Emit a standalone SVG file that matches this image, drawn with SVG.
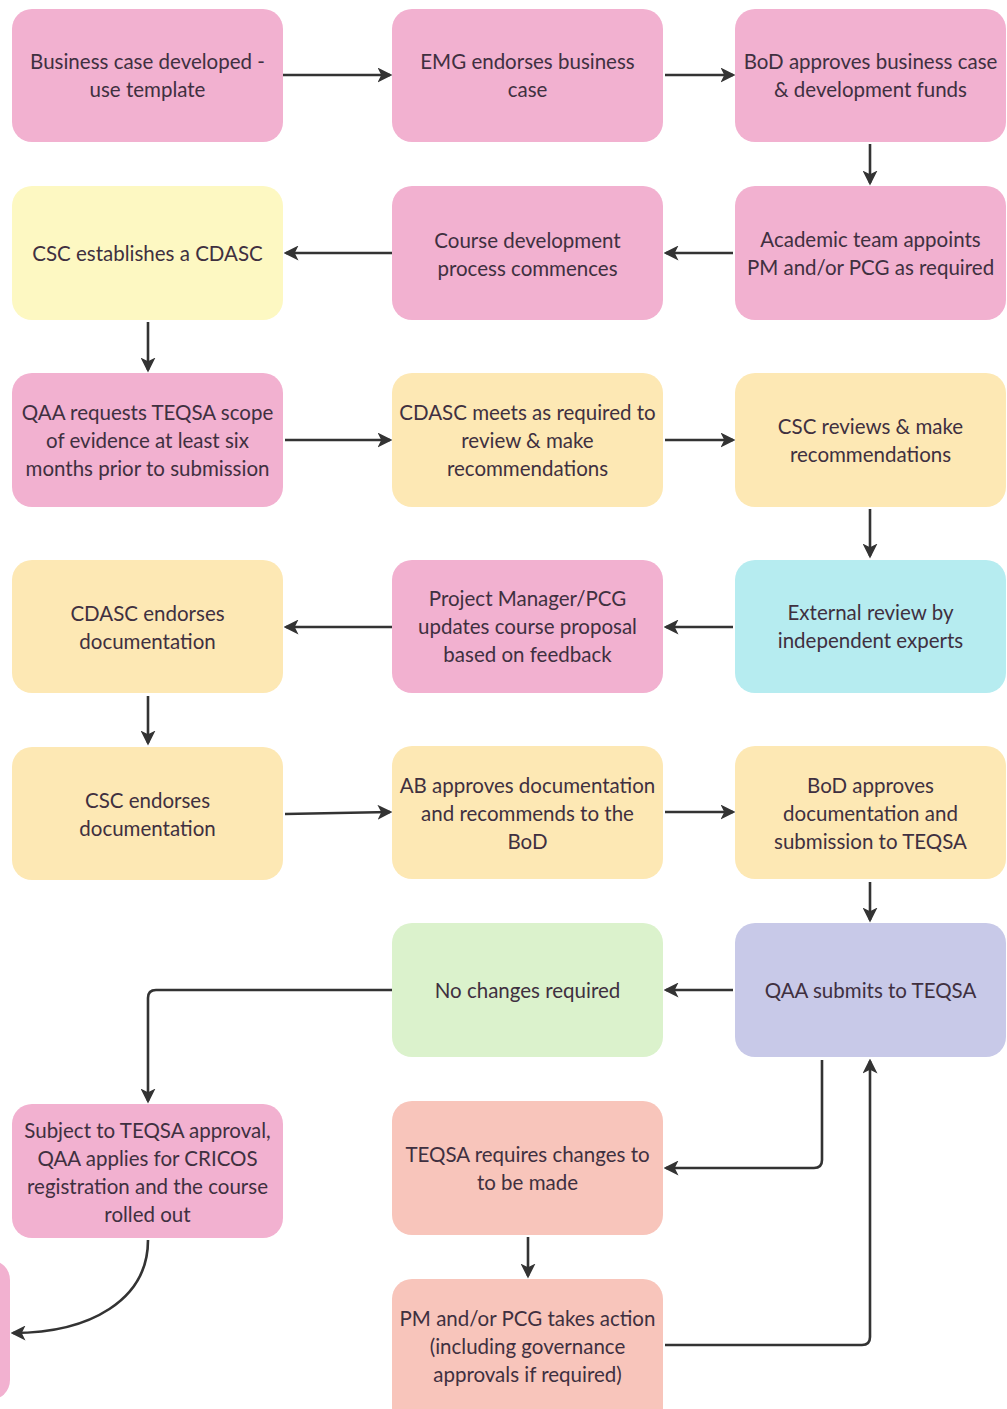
<svg xmlns="http://www.w3.org/2000/svg" width="1007" height="1409" viewBox="0 0 1007 1409">
<style>
.n rect{rx:20;ry:20}
.pink{fill:#f2b1d0}
.ylw{fill:#fdf8c2}
.pch{fill:#fde8b4}
.cyan{fill:#b6ecf0}
.grn{fill:#dbf2cc}
.lav{fill:#c8c9e8}
.sal{fill:#f8c5bb}
text{font-family:"Lato","Liberation Sans",sans-serif;font-size:20.5px;fill:#3f3040;text-anchor:middle;dominant-baseline:central}
.c path{fill:none;stroke:#333;stroke-width:2.6;marker-end:url(#ah)}
</style>
<defs>
<marker id="ah" viewBox="0 0 12 12" refX="10" refY="6" markerWidth="15" markerHeight="15" markerUnits="userSpaceOnUse" orient="auto">
<path d="M0,0 L12,6 L0,12 L3,6 Z" fill="#333"/>
</marker>
</defs>
<rect width="1007" height="1409" fill="#fff"/>
<g class="c">
<path d="M283,75 H390"/>
<path d="M665,75 H733"/>
<path d="M870,144 V183"/>
<path d="M733,253 H666"/>
<path d="M392,253 H286"/>
<path d="M148,322 V370"/>
<path d="M285,440 H390"/>
<path d="M665,440 H733"/>
<path d="M870,509 V556"/>
<path d="M733,627 H666"/>
<path d="M392,627 H286"/>
<path d="M148,696 V743"/>
<path d="M285,814 L390,812"/>
<path d="M665,812 H733"/>
<path d="M870,882 V920"/>
<path d="M733,990 H666"/>
<path d="M392,990 H156 Q148,990 148,998 V1101"/>
<path d="M822,1060 V1160 Q822,1168 814,1168 H666"/>
<path d="M665,1345 H862 Q870,1345 870,1337 V1061"/>
<path d="M528,1237 V1276"/>
<path d="M148,1240 C148,1300 90,1333 13,1333"/>
</g>
<g class="n" id="n1"><rect class="pink" x="12" y="9" width="271" height="133"/><text x="147.5" y="61">Business case developed -</text><text x="147.5" y="89">use template</text></g>
<g class="n" id="n2"><rect class="pink" x="392" y="9" width="271" height="133"/><text x="527.5" y="61">EMG endorses business</text><text x="527.5" y="89">case</text></g>
<g class="n" id="n3"><rect class="pink" x="735" y="9" width="271" height="133"/><text x="870.5" y="61">BoD approves business case</text><text x="870.5" y="89">&amp; development funds</text></g>
<g class="n" id="n4"><rect class="pink" x="735" y="186" width="271" height="134"/><text x="870.5" y="239">Academic team appoints</text><text x="870.5" y="267">PM and/or PCG as required</text></g>
<g class="n" id="n5"><rect class="pink" x="392" y="186" width="271" height="134"/><text x="527.5" y="240">Course development</text><text x="527.5" y="268">process commences</text></g>
<g class="n" id="n6"><rect class="ylw" x="12" y="186" width="271" height="134"/><text x="147.5" y="253">CSC establishes a CDASC</text></g>
<g class="n" id="n7"><rect class="pink" x="12" y="373" width="271" height="134"/><text x="147.5" y="412">QAA requests TEQSA scope</text><text x="147.5" y="440">of evidence at least six</text><text x="147.5" y="468">months prior to submission</text></g>
<g class="n" id="n8"><rect class="pch" x="392" y="373" width="271" height="134"/><text x="527.5" y="412">CDASC meets as required to</text><text x="527.5" y="440">review &amp; make</text><text x="527.5" y="468">recommendations</text></g>
<g class="n" id="n9"><rect class="pch" x="735" y="373" width="271" height="134"/><text x="870.5" y="426">CSC reviews &amp; make</text><text x="870.5" y="454">recommendations</text></g>
<g class="n" id="n10"><rect class="cyan" x="735" y="560" width="271" height="133"/><text x="870.5" y="612">External review by</text><text x="870.5" y="640">independent experts</text></g>
<g class="n" id="n11"><rect class="pink" x="392" y="560" width="271" height="133"/><text x="527.5" y="598">Project Manager/PCG</text><text x="527.5" y="626">updates course proposal</text><text x="527.5" y="654">based on feedback</text></g>
<g class="n" id="n12"><rect class="pch" x="12" y="560" width="271" height="133"/><text x="147.5" y="613">CDASC endorses</text><text x="147.5" y="641">documentation</text></g>
<g class="n" id="n13"><rect class="pch" x="12" y="747" width="271" height="133"/><text x="147.5" y="800">CSC endorses</text><text x="147.5" y="828">documentation</text></g>
<g class="n" id="n14"><rect class="pch" x="392" y="746" width="271" height="133"/><text x="527.5" y="785">AB approves documentation</text><text x="527.5" y="813">and recommends to the</text><text x="527.5" y="841">BoD</text></g>
<g class="n" id="n15"><rect class="pch" x="735" y="746" width="271" height="133"/><text x="870.5" y="785">BoD approves</text><text x="870.5" y="813">documentation and</text><text x="870.5" y="841">submission to TEQSA</text></g>
<g class="n" id="n16"><rect class="lav" x="735" y="923" width="271" height="134"/><text x="870.5" y="990">QAA submits to TEQSA</text></g>
<g class="n" id="n17"><rect class="grn" x="392" y="923" width="271" height="134"/><text x="527.5" y="990">No changes required</text></g>
<g class="n" id="n18"><rect class="pink" x="12" y="1104" width="271" height="134"/><text x="147.5" y="1130">Subject to TEQSA approval,</text><text x="147.5" y="1158">QAA applies for CRICOS</text><text x="147.5" y="1186">registration and the course</text><text x="147.5" y="1214">rolled out</text></g>
<g class="n" id="n19"><rect class="sal" x="392" y="1101" width="271" height="134"/><text x="527.5" y="1154">TEQSA requires changes to</text><text x="527.5" y="1182">to be made</text></g>
<g class="n" id="n20"><rect class="sal" x="392" y="1279" width="271" height="150"/><text x="527.5" y="1318">PM and/or PCG takes action</text><text x="527.5" y="1346">(including governance</text><text x="527.5" y="1374">approvals if required)</text></g>
<g class="n" id="n21"><rect class="pink" x="-260" y="1260" width="270" height="140"/></g>
</svg>
